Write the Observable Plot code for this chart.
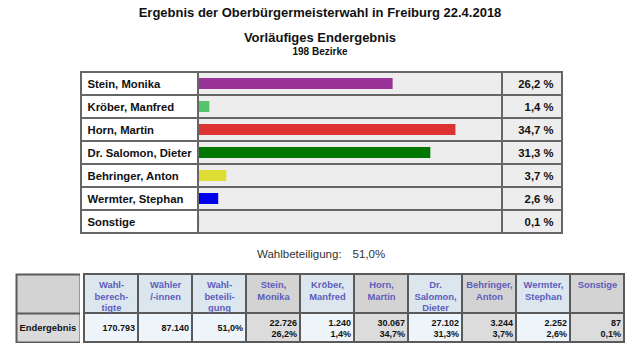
<!DOCTYPE html>
<html><head><meta charset="utf-8">
<script src="https://cdn.jsdelivr.net/npm/d3@7"></script>
<script src="https://cdn.jsdelivr.net/npm/@observablehq/plot@0.6"></script>
<style>
html,body{margin:0;padding:0;background:#fff;}
#root{position:relative;width:640px;height:351px;overflow:hidden;font-family:"Liberation Sans",Arial,sans-serif;}
.abs{position:absolute;}
.t{position:absolute;left:0;width:640px;text-align:center;font-weight:bold;color:#111;white-space:nowrap;}
.flex{position:absolute;display:flex;}
.flex svg{display:block;flex:none;}
</style></head><body><div id="root"></div>
<script>
// ---- data ----
const titleText = "Ergebnis der Oberbürgermeisterwahl in Freiburg 22.4.2018";
const subtitleText = "Vorläufiges Endergebnis";
const districtsText = "198 Bezirke";
const candidates = ["Stein, Monika", "Kröber, Manfred", "Horn, Martin", "Dr. Salomon, Dieter", "Behringer, Anton", "Wermter, Stephan", "Sonstige"];
const votes = [22726, 1240, 30067, 27102, 3244, 2252, 87];
const shares = [26.2, 1.4, 34.7, 31.3, 3.7, 2.6, 0.1];
const barColors = ["#993399", "#55c46b", "#dd3333", "#007700", "#dddd33", "#0000ee", "#e0e0e0"];
const headerLabels = ["Wahl-\nberech-\ntigte", "Wähler\n/-innen", "Wahl-\nbeteili-\ngung", "Stein,\nMonika", "Kröber,\nManfred", "Horn,\nMartin", "Dr.\nSalomon,\nDieter", "Behringer,\nAnton", "Wermter,\nStephan", "Sonstige"];
const rowLabel = "Endergebnis";
const eligible = 170793;
const voters = 87140;
const turnout = 51.0;
const turnoutLabel = "Wahlbeteiligung:";

// ---- helpers ----
const de = d3.formatLocale({decimal: ",", thousands: ".", grouping: [3], currency: ["", " €"]});
const fmtInt = de.format(",d");
const fmtPct = de.format(".1f");
const FONT = "'Liberation Sans', Arial, sans-serif";
const baseStyle = {fontFamily: FONT, background: "transparent", overflow: "hidden"};
const BORDER = "#666";

const root = document.getElementById("root");
function addDiv(cls, css, text) {
  const d = document.createElement("div");
  d.className = cls; Object.assign(d.style, css); if (text != null) d.textContent = text;
  root.appendChild(d); return d;
}

// titles
addDiv("t", {top: "6px", fontSize: "13px", lineHeight: "13px"}, titleText);
addDiv("t", {top: "31px", fontSize: "13px", lineHeight: "13px"}, subtitleText);
addDiv("t", {top: "47px", fontSize: "10px", lineHeight: "10px"}, districtsText);

// ---- main bar box ----
const rows = candidates.map((name, i) => ({name, share: shares[i]}));
const yScale = {domain: candidates, padding: 0, axis: null};
const common = {height: 165, marginTop: 1, marginBottom: 1, style: baseStyle};

const namesPlot = Plot.plot({
  ...common, width: 118, marginLeft: 1, marginRight: 0, y: yScale,
  marks: [
    Plot.cell(rows, {y: "name", fill: "#ffffff", stroke: BORDER, strokeWidth: 2}),
    Plot.text(rows, {y: "name", text: "name", frameAnchor: "left", textAnchor: "start", dx: 6,
      fontWeight: "bold", fontSize: 11.3, fill: "#111"})
  ]
});
const barsPlot = Plot.plot({
  ...common, width: 304, marginLeft: 0, marginRight: 0,
  x: {domain: [0, 41], range: [1, 304], axis: null},
  y: yScale,
  color: {domain: candidates, range: barColors},
  marks: [
    Plot.cell(rows, {y: "name", fill: "#ededed", stroke: BORDER, strokeWidth: 2}),
    Plot.barX(rows, {x: "share", y: "name", fill: "name", insetTop: 6, insetBottom: 6})
  ]
});
const pctPlot = Plot.plot({
  ...common, width: 61, marginLeft: 0, marginRight: 1, y: yScale,
  marks: [
    Plot.cell(rows, {y: "name", fill: "#ededed", stroke: BORDER, strokeWidth: 2}),
    Plot.text(rows, {y: "name", text: d => fmtPct(d.share) + " %", frameAnchor: "right", textAnchor: "end", dx: -9,
      fontWeight: "bold", fontSize: 11.3, fill: "#111"})
  ]
});
const box = addDiv("flex", {left: "80px", top: "70px"});
box.append(namesPlot, barsPlot, pctPlot);

// turnout line
const tl = addDiv("abs", {left: "257px", top: "249px", fontSize: "11.5px", lineHeight: "11.5px", color: "#333", whiteSpace: "nowrap"});
const s1 = document.createElement("span"); s1.textContent = turnoutLabel;
const s2 = document.createElement("span"); s2.textContent = fmtPct(turnout) + "%"; s2.style.marginLeft = "11px";
tl.append(s1, s2);

// ---- results table ----
const cols = headerLabels.map((label, i) => {
  let value;
  if (i === 0) value = fmtInt(eligible);
  else if (i === 1) value = fmtInt(voters);
  else if (i === 2) value = fmtPct(turnout) + "%";
  else value = fmtInt(votes[i - 3]) + "\n" + fmtPct(shares[i - 3]) + "%";
  const tone = i < 3 ? "toneA" : ((i - 3) % 2 === 0 ? "toneB" : "toneA");
  return {key: i, label, value, tone};
});
const TB = "#5a5a5a";
const xCols = {domain: cols.map(d => d.key), padding: 0, axis: null};

const hdrFirst = Plot.plot({
  width: 65, height: 40, marginLeft: 1, marginRight: 0, marginTop: 1, marginBottom: 0, style: baseStyle,
  marks: [Plot.frame({fill: "#d3d3d3", stroke: TB, strokeWidth: 2})]
});
const hdrRest = Plot.plot({
  width: 548, height: 40, marginLeft: 0, marginRight: 1, marginTop: 1, marginBottom: 0, style: baseStyle,
  x: xCols,
  color: {type: "ordinal", domain: ["toneA", "toneB"], range: ["#dbe6ee", "#d3d3d3"]},
  marks: [
    Plot.cell(cols, {x: "key", fill: "tone", stroke: TB, strokeWidth: 2}),
    Plot.text(cols, {x: "key", text: "label", frameAnchor: "top", lineAnchor: "top", dy: 6,
      fontSize: 9.4, fontWeight: "bold", lineHeight: 1.19, fill: "#5d5dbb"})
  ]
});
const dataFirst = Plot.plot({
  width: 65, height: 30, marginLeft: 1, marginRight: 0, marginTop: 0, marginBottom: 1, style: baseStyle,
  marks: [
    Plot.frame({fill: "#dadada", stroke: TB, strokeWidth: 2}),
    Plot.text([rowLabel], {text: d => d, frameAnchor: "left", textAnchor: "start", dx: 3,
      fontSize: 9.4, fontWeight: "bold", fill: "#111"})
  ]
});
const dataRest = Plot.plot({
  width: 548, height: 30, marginLeft: 0, marginRight: 1, marginTop: 0, marginBottom: 1, style: baseStyle,
  x: xCols,
  color: {type: "ordinal", domain: ["toneA", "toneB"], range: ["#edf5fa", "#dcdcdc"]},
  marks: [
    Plot.cell(cols, {x: "key", fill: "tone", stroke: TB, strokeWidth: 2}),
    Plot.text(cols, {x: "key", text: "value", textAnchor: "end", dx: 23.5,
      fontSize: 9, fontWeight: "bold", lineHeight: 1.19, fill: "#111"})
  ]
});
const r1 = addDiv("flex", {left: "15px", top: "273px"}); r1.append(hdrFirst, hdrRest);
const r2 = addDiv("flex", {left: "15px", top: "313px"}); r2.append(dataFirst, dataRest);
</script></body></html>
